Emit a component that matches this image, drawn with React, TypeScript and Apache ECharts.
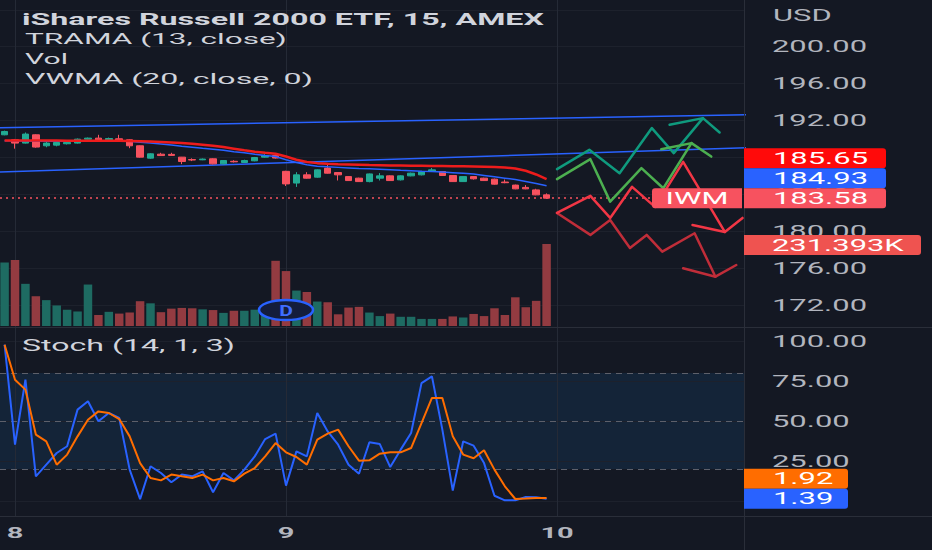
import React, { useEffect, useRef } from "react";
import * as echarts from "echarts";

// [open, close, low, high] per 15-minute bar
const candles: number[][] = [
  [190.45, 190.81, 190.4, 190.9],
  [189.91, 189.55, 188.95, 190.0],
  [189.55, 190.53, 189.5, 190.7],
  [190.45, 189.12, 189.05, 190.5],
  [189.26, 189.55, 189.1, 189.7],
  [189.33, 189.62, 189.2, 189.75],
  [189.48, 189.62, 189.4, 189.8],
  [189.55, 189.98, 189.5, 190.05],
  [189.98, 190.09, 189.95, 190.15],
  [190.09, 189.85, 189.8, 190.45],
  [189.91, 190.05, 189.85, 190.15],
  [190.02, 189.85, 189.8, 190.45],
  [189.91, 189.26, 189.0, 189.95],
  [189.26, 188.03, 187.98, 189.3],
  [187.92, 188.39, 187.85, 188.45],
  [188.35, 188.2, 188.15, 188.5],
  [188.33, 188.22, 188.2, 188.5],
  [188.03, 187.56, 187.27, 188.05],
  [187.76, 187.72, 187.6, 187.9],
  [187.74, 187.82, 187.7, 187.88],
  [187.85, 187.3, 187.25, 187.9],
  [187.3, 187.66, 187.25, 187.7],
  [187.58, 187.52, 187.45, 187.7],
  [187.45, 187.66, 187.4, 187.75],
  [187.63, 187.99, 187.58, 188.05],
  [188.03, 188.21, 187.98, 188.35],
  [188.21, 187.93, 187.88, 188.3],
  [186.49, 185.13, 184.9, 186.55],
  [185.22, 186.11, 184.8, 186.4],
  [186.11, 185.75, 185.7, 186.4],
  [185.86, 186.65, 185.8, 186.7],
  [186.84, 186.29, 186.25, 187.2],
  [186.36, 186.11, 185.5, 186.4],
  [185.92, 185.49, 185.45, 185.95],
  [185.75, 185.38, 185.35, 185.8],
  [185.38, 186.21, 185.3, 186.25],
  [185.75, 186.0, 185.5, 186.3],
  [186.0, 185.49, 185.45, 186.05],
  [185.57, 186.0, 185.5, 186.05],
  [186.0, 186.29, 185.95, 186.35],
  [186.11, 186.47, 186.05, 186.55],
  [186.47, 186.65, 186.45, 186.85],
  [186.47, 186.04, 186.0, 186.5],
  [186.04, 185.38, 185.35, 186.05],
  [185.38, 185.92, 185.35, 185.95],
  [185.92, 185.68, 185.6, 185.95],
  [185.75, 185.49, 185.45, 185.8],
  [185.64, 185.1, 185.05, 185.7],
  [185.33, 185.26, 185.2, 185.6],
  [185.0, 184.59, 184.55, 185.05],
  [184.75, 184.59, 184.55, 185.0],
  [184.48, 183.94, 183.9, 184.6],
  [183.94, 183.58, 183.5, 184.1],
];

const volumes = [
  179000, 186000, 119000, 84000, 73000, 58000, 46000, 41000, 117000, 31000,
  40000, 35000, 38000, 70000, 64000, 39000, 49000, 51000, 50000, 47000,
  45000, 37000, 43000, 43000, 46000, 41000, 184000, 155000, 100000, 96000,
  69000, 67000, 33000, 52000, 54000, 38000, 28000, 35000, 26000, 26000,
  20000, 20000, 20000, 27000, 24000, 34000, 28000, 50000, 31000, 81000,
  53000, 71000, 231393,
];

const trama = [
  189.82, 189.82, 189.82, 189.82, 189.82, 189.82, 189.81, 189.81, 189.81, 189.81,
  189.81, 189.8, 189.78, 189.75, 189.72, 189.68, 189.62, 189.55, 189.47, 189.38,
  189.27, 189.12, 188.95, 188.78, 188.62, 188.5, 188.4, 188.1, 187.75, 187.5,
  187.38, 187.3, 187.26, 187.23, 187.2, 187.17, 187.15, 187.13, 187.12, 187.1,
  187.09, 187.08, 187.07, 187.05, 187.03, 187.01, 186.99, 186.96, 186.9, 186.8,
  186.55, 186.15, 185.65,
];

const vwma = [
  189.8, 189.8, 189.78, 189.78, 189.76, 189.75, 189.74, 189.74, 189.74, 189.75,
  189.75, 189.76, 189.74, 189.65, 189.55, 189.45, 189.35, 189.22, 189.1, 188.98,
  188.88, 188.78, 188.62, 188.5, 188.35, 188.22, 188.1, 187.75, 187.45, 187.2,
  187.05, 186.98, 186.92, 186.86, 186.8, 186.76, 186.72, 186.66, 186.6, 186.55,
  186.5, 186.46, 186.42, 186.35, 186.28, 186.2, 186.05, 185.9, 185.75, 185.6,
  185.4, 185.18, 184.93,
];

const stochK = [
  97.7, 35.2, 75.8, 15.4, 22.7, 30.0, 34.2, 57.1, 62.3, 49.8,
  55.0, 51.9, 19.6, 1.2, 21.7, 17.5, 11.7, 16.5, 15.4, 18.5,
  5.5, 17.5, 12.9, 19.6, 27.9, 38.7, 42.1, 9.6, 31.0, 27.9,
  55.0, 43.5, 35.2, 22.7, 17.1, 36.7, 35.6, 21.2, 32.1, 42.5,
  73.7, 77.9, 44.6, 6.5, 37.3, 34.6, 23.7, 3.3, 0.4, 0.4,
  2.5, 2.3, 1.39,
];

const stochD = [
  97.7, 75.8, 69.6, 41.5, 37.3, 22.7, 29.0, 40.4, 50.8, 56.0,
  55.0, 51.2, 40.4, 23.7, 14.4, 12.9, 16.5, 15.4, 14.4, 16.5,
  12.9, 14.4, 12.3, 17.1, 20.6, 27.9, 36.2, 30.4, 27.5, 22.7,
  38.3, 42.1, 44.6, 34.2, 25.2, 25.4, 29.6, 30.4, 30.4, 33.1,
  48.7, 64.4, 64.4, 40.4, 29.0, 26.7, 31.7, 19.6, 9.2, 1.25,
  1.5, 1.9, 1.92,
];

const priceTicks = [200, 196, 192, 188, 184, 180, 176, 172];
const priceGridLevels = [204, 200, 196, 192, 188, 184, 180, 176, 172];
const stochTicks = [100, 75, 50, 25, 0];
const stochBandLevels = [80, 50, 20];
const dayStarts = [1, 27, 53];
const dayLabels = ["8", "9", "10"];
const dividendBar = 27;

// trend channel (bar index, price)
const channelUpper = [[-1, 191.2], [72, 192.64]];
const channelLower = [[-1, 186.41], [72, 189.07]];

// projected path drawings (bar index, price)
const tealPath = [[53.0, 186.73], [56.1, 188.82], [59.0, 186.29], [62.1, 191.18], [64.2, 188.46], [67.0, 192.26]];
const tealHead = [[63.8, 191.53], [67.0, 192.26], [68.6, 190.7]];
const greenPath = [[53.0, 185.64], [56.2, 187.81], [58.1, 183.21], [61.1, 186.84], [63.2, 184.66], [65.9, 189.55]];
const greenHead = [[63.0, 188.88], [65.9, 189.55], [67.8, 188.09]];
const redPath = [[53.0, 181.98], [56.2, 183.83], [58.1, 181.44], [60.2, 184.81], [62.4, 182.64], [65.1, 187.52], [69.1, 179.92]];
const redHead = [[66.0, 180.68], [69.1, 179.92], [70.8, 181.44]];
const darkRedPath = [[53.0, 181.98], [56.2, 179.6], [58.1, 181.22], [60.0, 178.19], [61.6, 179.6], [63.1, 177.78], [66.2, 179.78], [68.2, 175.07]];
const darkRedHead = [[65.1, 175.98], [68.2, 175.07], [70.2, 176.34]];

const BG = "#141823";
const UP = "#22ab94";
const DOWN = "#f7525f";
const VOL_UP = "#1e6b62";
const VOL_DOWN = "#933b41";
const AXIS_TXT = "#b2b5be";
const LEG_TXT = "#d1d4dc";
const FRAME = "#2a2e39";
const FONT = "Roboto";

export default function App() {
  const ref = useRef<HTMLDivElement>(null);

  useEffect(() => {
    document.body.style.margin = "0";
    document.body.style.background = BG;
    const el = ref.current!;
    const chart = echarts.init(el, null, { renderer: "svg" });

    const X_MIN = -0.44;
    const X_MAX = 70.94;
    const xAxes = [0, 1, 2].map((g) => ({ type: "value", gridIndex: g, min: X_MIN, max: X_MAX, show: false }));

    const pathSeries = (data: number[][], color: string) => ({
      type: "line",
      xAxisIndex: 0,
      yAxisIndex: 0,
      data,
      symbol: "none",
      silent: true,
      z: 6,
      lineStyle: { color, width: 2.5, cap: "round", join: "round" },
    });

    const option: any = {
      animation: false,
      backgroundColor: BG,
      grid: [
        { left: 0, top: 0, width: 744, height: 327 },
        { left: 0, top: 230, width: 744, height: 96 },
        { left: 0, top: 328, width: 744, height: 189 },
      ],
      xAxis: xAxes,
      yAxis: [
        { type: "value", gridIndex: 0, min: 169.62, max: 205.06, show: false },
        { type: "value", gridIndex: 1, min: 0, max: 270900, show: false },
        { type: "value", gridIndex: 2, min: -10, max: 108.125, show: false },
      ],
      series: [
        {
          type: "line",
          name: "channelUpper",
          xAxisIndex: 0,
          yAxisIndex: 0,
          data: channelUpper,
          symbol: "none",
          silent: true,
          z: 3,
          lineStyle: { color: "#2962ff", width: 1.5 },
          markLine: {
            silent: true,
            z: 1,
            symbol: ["none", "none"],
            label: { show: false },
            lineStyle: { color: "#1d212c", width: 1, type: "solid" },
            data: [
              ...priceGridLevels.map((v) => ({ yAxis: v })),
              ...dayStarts.map((v) => ({ xAxis: v, lineStyle: { color: "#252a36", width: 1, type: "solid" } })),
            ],
          },
        },
        {
          type: "line",
          name: "channelLower",
          xAxisIndex: 0,
          yAxisIndex: 0,
          data: channelLower,
          symbol: "none",
          silent: true,
          z: 3,
          lineStyle: { color: "#2962ff", width: 1.5 },
        },
        {
          type: "bar",
          name: "Vol",
          xAxisIndex: 1,
          yAxisIndex: 1,
          barWidth: 8.5,
          silent: true,
          z: 2,
          data: volumes.map((v, i) => ({
            value: [i, v],
            itemStyle: { color: candles[i][1] >= candles[i][0] ? VOL_UP : VOL_DOWN },
          })),
        },
        {
          type: "candlestick",
          name: "IWM",
          xAxisIndex: 0,
          yAxisIndex: 0,
          barWidth: 7,
          silent: true,
          z: 4,
          data: candles.map((c, i) => [i, c[0], c[1], c[2], c[3]]),
          itemStyle: { color: UP, color0: DOWN, borderColor: UP, borderColor0: DOWN, borderWidth: 1 },
          markLine: {
            silent: true,
            z: 3,
            symbol: ["none", "none"],
            label: { show: false },
            data: [{ yAxis: candles[candles.length - 1][1], lineStyle: { color: DOWN, type: [2, 4], width: 1.5 } }],
          },
        },
        {
          type: "line",
          name: "VWMA",
          xAxisIndex: 0,
          yAxisIndex: 0,
          data: vwma.map((v, i) => [i, v]),
          symbol: "none",
          silent: true,
          z: 5,
          lineStyle: { color: "#2962ff", width: 1.5 },
        },
        {
          type: "line",
          name: "TRAMA",
          xAxisIndex: 0,
          yAxisIndex: 0,
          data: trama.map((v, i) => [i, v]),
          symbol: "none",
          silent: true,
          z: 5,
          lineStyle: { color: "#ee1c1c", width: 2.5 },
        },
        pathSeries(tealPath, "#0f9a7e"),
        pathSeries(tealHead, "#0f9a7e"),
        pathSeries(greenPath, "#4caf50"),
        pathSeries(greenHead, "#4caf50"),
        pathSeries(darkRedPath, "#c02d39"),
        pathSeries(darkRedHead, "#c02d39"),
        pathSeries(redPath, "#f23645"),
        pathSeries(redHead, "#f23645"),
        {
          type: "line",
          name: "%K",
          xAxisIndex: 2,
          yAxisIndex: 2,
          data: stochK.map((v, i) => [i, v]),
          symbol: "none",
          silent: true,
          z: 4,
          lineStyle: { color: "#2962ff", width: 2 },
          markArea: {
            silent: true,
            z: 1,
            itemStyle: { color: "rgba(33,150,243,0.1)" },
            data: [[{ yAxis: 20 }, { yAxis: 80 }]],
          },
          markLine: {
            silent: true,
            z: 2,
            symbol: ["none", "none"],
            label: { show: false },
            data: [
              ...stochTicks.map((v) => ({ yAxis: v, lineStyle: { color: "#1d212c", width: 1, type: "solid" } })),
              ...dayStarts.map((v) => ({ xAxis: v, lineStyle: { color: "#252a36", width: 1, type: "solid" } })),
              ...stochBandLevels.map((v) => ({ yAxis: v, lineStyle: { color: "#5d606b", width: 1, type: [6, 5] } })),
            ],
          },
        },
        {
          type: "line",
          name: "%D",
          xAxisIndex: 2,
          yAxisIndex: 2,
          data: stochD.map((v, i) => [i, v]),
          symbol: "none",
          silent: true,
          z: 5,
          lineStyle: { color: "#ff6d00", width: 2 },
        },
      ],
    };

    chart.setOption(option);

    // ---------- overlay texts & tags ----------
    const cv = document.createElement("canvas").getContext("2d")!;
    const measure = (t: string, size: number, weight: string) => {
      cv.font = `${weight} ${size}px ${FONT}`;
      return cv.measureText(t).width || t.length * size * 0.55;
    };
    const px = (g: number, x: number, y: number) =>
      chart.convertToPixel({ xAxisIndex: g, yAxisIndex: g }, [x, y]) as number[];

    const AX_SIZE = 16;
    const sAxis = 95 / measure("200.00", AX_SIZE, "normal");

    const text = (t: string, x: number, y: number, o: any = {}) => {
      const size = o.size ?? AX_SIZE;
      const weight = o.weight ?? "normal";
      const sx = o.width ? o.width / measure(t, size, weight) : o.scale ?? sAxis;
      return {
        type: "text",
        x,
        y,
        scaleX: sx,
        z: o.z ?? 102,
        silent: true,
        style: {
          text: t,
          fill: o.color ?? AXIS_TXT,
          font: `${weight} ${size}px ${FONT}`,
          textAlign: o.align ?? "left",
          textVerticalAlign: "middle",
        },
      };
    };
    const rect = (x: number, y: number, w: number, h: number, fill: string, r: any = [0, 3, 3, 0]) => ({
      type: "rect",
      shape: { x, y, width: w, height: h, r },
      style: { fill },
      z: 106,
      silent: true,
    });
    const line = (x1: number, y1: number, x2: number, y2: number) => ({
      type: "line",
      shape: { x1, y1, x2, y2 },
      style: { stroke: FRAME, lineWidth: 1 },
      z: 100,
      silent: true,
    });

    const els: any[] = [];
    // frame
    els.push(line(744.5, 0, 744.5, 550));
    els.push(line(0, 327.5, 932, 327.5));
    els.push(line(0, 516.5, 932, 516.5));

    // legends
    els.push(text("iShares Russell 2000 ETF, 15, AMEX", 22, 19, { width: 522, size: 16, weight: "bold", color: LEG_TXT }));
    els.push(text("TRAMA (13, close)", 25, 39, { width: 262, size: 15, color: LEG_TXT }));
    els.push(text("Vol", 25, 59, { width: 43, size: 15, color: LEG_TXT }));
    els.push(text("VWMA (20, close, 0)", 25, 79, { width: 288, size: 15, color: LEG_TXT }));
    els.push(text("Stoch (14, 1, 3)", 22, 345, { width: 213, size: 16, color: LEG_TXT }));

    // price axis
    els.push(text("USD", 773, 15));
    priceTicks.forEach((v) => {
      els.push(text(v.toFixed(2), 772, px(0, 0, v)[1]));
    });
    // stoch axis
    stochTicks.forEach((v) => {
      els.push(text(v.toFixed(2), 772, px(2, 0, v)[1]));
    });
    // time axis
    dayStarts.forEach((d, i) => {
      els.push(text(dayLabels[i], px(0, d, 180)[0], 533, { size: 15, weight: "bold", align: "center" }));
    });

    // dividend marker
    const dx = px(0, dividendBar, 180)[0];
    els.push({
      type: "ellipse",
      shape: { cx: dx, cy: 310, rx: 27, ry: 10 },
      style: { fill: "#141d3c", stroke: "#2962ff", lineWidth: 2.5 },
      z: 100,
      silent: true,
    });
    els.push(text("D", dx, 310.5, { size: 14, weight: "bold", align: "center", color: "#3f6dff", scale: 1.5, z: 101 }));

    // price tags
    const last = candles.length - 1;
    const lastClose = candles[last][1];
    const lastV = vwma[last];
    const lastT = trama[last];
    const TAG_H = 20;
    const yC = px(0, last, lastClose)[1];
    const yV = Math.min(px(0, last, lastV)[1], yC - TAG_H);
    const yT = Math.min(px(0, last, lastT)[1], yV - TAG_H);
    const tag = (label: string, yc: number, color: string, w: number) => {
      els.push(rect(744, yc - TAG_H / 2, w, TAG_H, color));
      els.push(text(label, 773, yc, { color: "#ffffff", z: 112 }));
    };
    tag(lastT.toFixed(2), yT, "#ff0a0a", 142);
    tag(lastV.toFixed(2), yV, "#2962ff", 142);
    tag(lastClose.toFixed(2), yC, DOWN, 142);
    // symbol tag
    els.push(rect(652, yC - TAG_H / 2, 90, TAG_H, DOWN, [3, 0, 0, 3]));
    els.push(text("IWM", 697, yC, { color: "#ffffff", align: "center", z: 112 }));
    // volume tag
    const lastVol = volumes[last];
    const yVol = px(1, last, lastVol)[1] + 1;
    els.push(rect(744, yVol - TAG_H / 2, 177, TAG_H, "#ef5350"));
    els.push(text((lastVol / 1000).toFixed(3) + "K", 772, yVol, { color: "#ffffff", z: 112 }));
    // stoch tags
    const kLast = stochK[last];
    const dLast = stochD[last];
    const yK = px(2, last, kLast)[1];
    const yD = Math.min(px(2, last, dLast)[1], yK - TAG_H);
    els.push(rect(744, yD - TAG_H / 2, 104, TAG_H, "#ff6d00"));
    els.push(text(dLast.toFixed(2), 773, yD, { color: "#ffffff", z: 112 }));
    els.push(rect(744, yK - TAG_H / 2, 104, TAG_H, "#2962ff"));
    els.push(text(kLast.toFixed(2), 773, yK, { color: "#ffffff", z: 112 }));

    chart.setOption({ graphic: { elements: els } });

    return () => chart.dispose();
  }, []);

  return (
    <div
      ref={ref}
      style={{ position: "fixed", left: 0, top: 0, width: 932, height: 550, background: BG }}
    />
  );
}
